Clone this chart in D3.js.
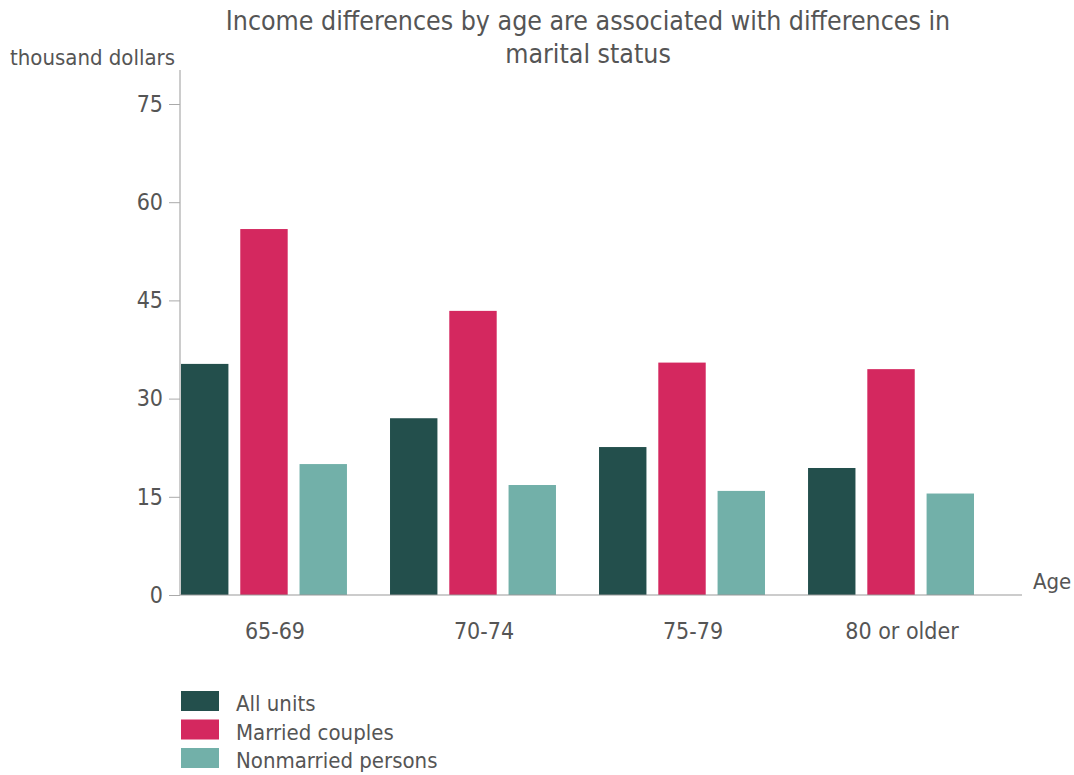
<!DOCTYPE html>
<html>
<head>
<meta charset="utf-8">
<script src="https://cdn.jsdelivr.net/npm/d3@7"></script>
<style>
  body { margin: 0; background: #fff; }
  text { font-family: "DejaVu Sans Condensed", "DejaVu Sans", sans-serif; fill: #555; }
</style>
</head>
<body>
<div id="chart-area"></div>
<script>
var ages = ["65-69", "70-74", "75-79", "80 or older"];
var seriesNames = ["All units", "Married couples", "Nonmarried persons"];
var allUnits = [35.3, 27.0, 22.6, 19.4];
var married = [55.9, 43.4, 35.5, 34.5];
var nonmarried = [20.0, 16.8, 15.9, 15.5];
var yTicks = [0, 15, 30, 45, 60, 75];
var colors = ["#234f4c", "#d4285f", "#72b0a9"];

var width = 1074;
var height = 775;

var svg = d3.select("#chart-area").append("svg")
    .attr("width", width)
    .attr("height", height);

var rows = ages.map((a, i) => ({
    age: a,
    values: [allUnits[i], married[i], nonmarried[i]]
}));

var x0 = d3.scaleBand().domain(ages).range([181, 974]).paddingInner(0.206);
var x1 = d3.scaleBand().domain(d3.range(seriesNames.length)).range([0, x0.bandwidth()]).paddingInner(0.2);
var y = d3.scaleLinear().domain([0, 75]).range([595, 104]);

// title
svg.append("text")
    .attr("x", 588)
    .attr("y", 30)
    .attr("text-anchor", "middle")
    .style("font-size", "26.5px")
    .text("Income differences by age are associated with differences in");
svg.append("text")
    .attr("x", 588)
    .attr("y", 63)
    .attr("text-anchor", "middle")
    .style("font-size", "26.5px")
    .text("marital status");

// y label
svg.append("text")
    .attr("x", 10)
    .attr("y", 65)
    .style("font-size", "22px")
    .text("thousand dollars");

// y axis
var yAxis = svg.append("g")
    .attr("transform", "translate(180,0)")
    .call(d3.axisLeft(y).tickValues(yTicks).tickSize(11).tickPadding(6));
yAxis.select(".domain").attr("d", "M0,70V" + y(0)).attr("stroke", "#999");
yAxis.selectAll(".tick line").attr("stroke", "#aaa");
yAxis.selectAll(".tick text")
    .style("font-size", "23px")
    .style("fill", "#555")
    .attr("font-family", null);

// bars
var groups = svg.selectAll(".grp").data(rows).enter().append("g")
    .attr("class", "grp")
    .attr("transform", (d) => "translate(" + x0(d.age) + ",0)");

groups.selectAll("rect").data((d) => d.values).enter().append("rect")
    .attr("x", (d, i) => x1(i))
    .attr("width", x1.bandwidth())
    .attr("y", (d) => y(d))
    .attr("height", (d) => y(0) - y(d))
    .attr("fill", (d, i) => colors[i]);

// x axis
var xAxis = svg.append("g")
    .attr("transform", "translate(0," + y(0) + ")")
    .call(d3.axisBottom(x0).tickSize(0).tickPadding(28));
xAxis.select(".domain").attr("d", "M180,0H1022").attr("stroke", "#999");
xAxis.selectAll(".tick text")
    .style("font-size", "23px")
    .style("fill", "#555")
    .attr("dx", 11)
    .attr("font-family", null);

svg.append("text")
    .attr("x", 1033)
    .attr("y", 589)
    .style("font-size", "22px")
    .text("Age");

// legend
var legend = svg.selectAll(".legend").data(seriesNames).enter().append("g")
    .attr("class", "legend")
    .attr("transform", (d, i) => "translate(181," + (691 + i * 28.5) + ")");
legend.append("rect")
    .attr("width", 38)
    .attr("height", 20)
    .attr("fill", (d, i) => colors[i]);
legend.append("text")
    .attr("x", 55)
    .attr("y", 20)
    .style("font-size", "22px")
    .text((d) => d);
</script>
</body>
</html>
